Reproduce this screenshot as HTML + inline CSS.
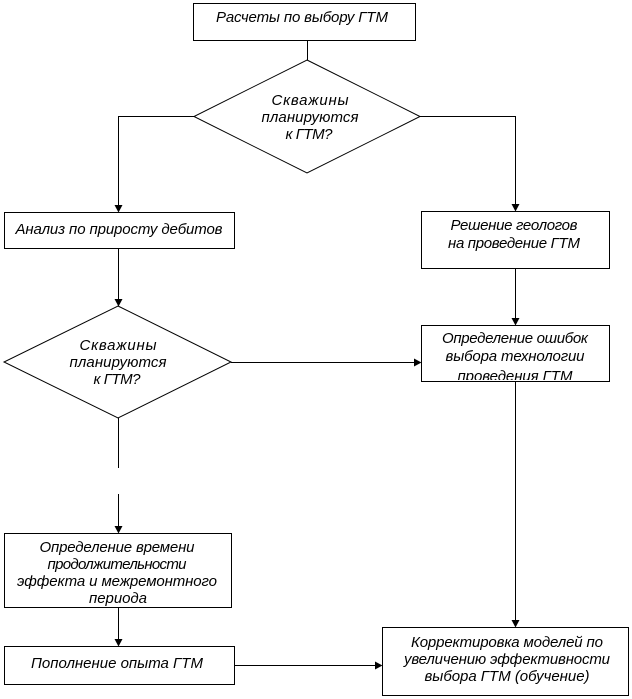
<!DOCTYPE html>
<html>
<head>
<meta charset="utf-8">
<style>
  html, body { margin: 0; padding: 0; background: #ffffff; }
  body { width: 632px; height: 699px; overflow: hidden; }
  svg { display: block; }
  text { font-family: "Liberation Sans", "Noto Sans CJK SC", sans-serif; font-style: italic; font-size: 15px; fill: #000; }
</style>
</head>
<body>
<svg width="632" height="699" viewBox="0 0 632 699" xmlns="http://www.w3.org/2000/svg">
  <defs>
    <clipPath id="clipErr">
      <rect x="422" y="326" width="187" height="54"/>
    </clipPath>
  </defs>
  <g fill="none" stroke="#000" stroke-width="1">
    <!-- top box -->
    <rect x="193.5" y="3.5" width="222" height="37"/>
    <line x1="307.5" y1="40" x2="307.5" y2="60"/>
    <!-- diamond 1 -->
    <polygon points="307,60 420,116.5 307,173 194,116.5"/>
    <!-- left branch -->
    <polyline points="194,116.5 118.5,116.5 118.5,206"/>
    <!-- right branch -->
    <polyline points="420,116.5 515.5,116.5 515.5,205"/>
    <!-- Analiz box -->
    <rect x="4.5" y="212.5" width="230" height="36"/>
    <line x1="118.5" y1="249" x2="118.5" y2="300"/>
    <!-- diamond 2 -->
    <polygon points="118,306 231,362 118,418 4,362"/>
    <line x1="231" y1="362.5" x2="415" y2="362.5"/>
    <!-- Reshenie box -->
    <rect x="421.5" y="211.5" width="188" height="57"/>
    <line x1="515.5" y1="268" x2="515.5" y2="319"/>
    <!-- Oshibok box -->
    <rect x="421.5" y="325.5" width="188" height="56"/>
    <line x1="515.5" y1="382" x2="515.5" y2="621"/>
    <!-- left dashed-gap line -->
    <line x1="118.5" y1="418" x2="118.5" y2="468"/>
    <line x1="118.5" y1="494" x2="118.5" y2="527"/>
    <!-- Vremya box -->
    <rect x="4.5" y="533.5" width="227" height="74"/>
    <line x1="118.5" y1="608" x2="118.5" y2="640"/>
    <!-- Popolnenie box -->
    <rect x="4.5" y="646.5" width="230" height="38"/>
    <line x1="235" y1="665.5" x2="376" y2="665.5"/>
    <!-- Korr box -->
    <rect x="382.5" y="627.5" width="246" height="68"/>
  </g>
  <!-- arrowheads -->
  <g fill="#000" stroke="none">
    <polygon points="114.5,205 122.5,205 118.5,212.5"/>
    <polygon points="511.5,204 519.5,204 515.5,211.5"/>
    <polygon points="114.5,299 122.5,299 118.5,306.5"/>
    <polygon points="414,358.5 414,366.5 421.5,362.5"/>
    <polygon points="511.5,318 519.5,318 515.5,325.5"/>
    <polygon points="511.5,620 519.5,620 515.5,627.5"/>
    <polygon points="114.5,526 122.5,526 118.5,533.5"/>
    <polygon points="114.5,639 122.5,639 118.5,646.5"/>
    <polygon points="375,661.5 375,669.5 382.5,665.5"/>
  </g>
  <!-- texts -->
  <g text-anchor="middle">
    <text x="302" y="22" textLength="172" lengthAdjust="spacing">Расчеты по выбору ГТМ</text>

    <text x="310" y="105" textLength="77" lengthAdjust="spacing">Скважины</text>
    <text x="310" y="122" textLength="97" lengthAdjust="spacing">планируются</text>
    <text x="309" y="139" textLength="47" lengthAdjust="spacing">к ГТМ?</text>

    <text x="119" y="234" textLength="207" lengthAdjust="spacing">Анализ по приросту дебитов</text>

    <text x="514" y="230" textLength="127" lengthAdjust="spacing">Решение геологов</text>
    <text x="514" y="248" textLength="132" lengthAdjust="spacing">на проведение ГТМ</text>

    <text x="118" y="350" textLength="77" lengthAdjust="spacing">Скважины</text>
    <text x="118" y="367" textLength="97" lengthAdjust="spacing">планируются</text>
    <text x="117" y="384" textLength="47" lengthAdjust="spacing">к ГТМ?</text>

    <text x="515" y="343" textLength="146" lengthAdjust="spacing">Определение ошибок</text>
    <text x="515" y="361" textLength="139" lengthAdjust="spacing">выбора технологии</text>
    <g clip-path="url(#clipErr)">
      <text x="515" y="381" textLength="115" lengthAdjust="spacing">проведения ГТМ</text>
    </g>

    <text x="117" y="552" textLength="155" lengthAdjust="spacing">Определение времени</text>
    <text x="117" y="569" textLength="139" lengthAdjust="spacing">продолжительности</text>
    <text x="117" y="586" textLength="200" lengthAdjust="spacing">эффекта и межремонтного</text>
    <text x="118" y="603" textLength="58" lengthAdjust="spacing">периода</text>

    <text x="117" y="668" textLength="172" lengthAdjust="spacing">Пополнение опыта ГТМ</text>

    <text x="507" y="647" textLength="192" lengthAdjust="spacing">Корректировка моделей по</text>
    <text x="507" y="664" textLength="206" lengthAdjust="spacing">увеличению эффективности</text>
    <text x="507" y="681" textLength="165" lengthAdjust="spacing">выбора ГТМ (обучение)</text>
  </g>
</svg>
</body>
</html>
